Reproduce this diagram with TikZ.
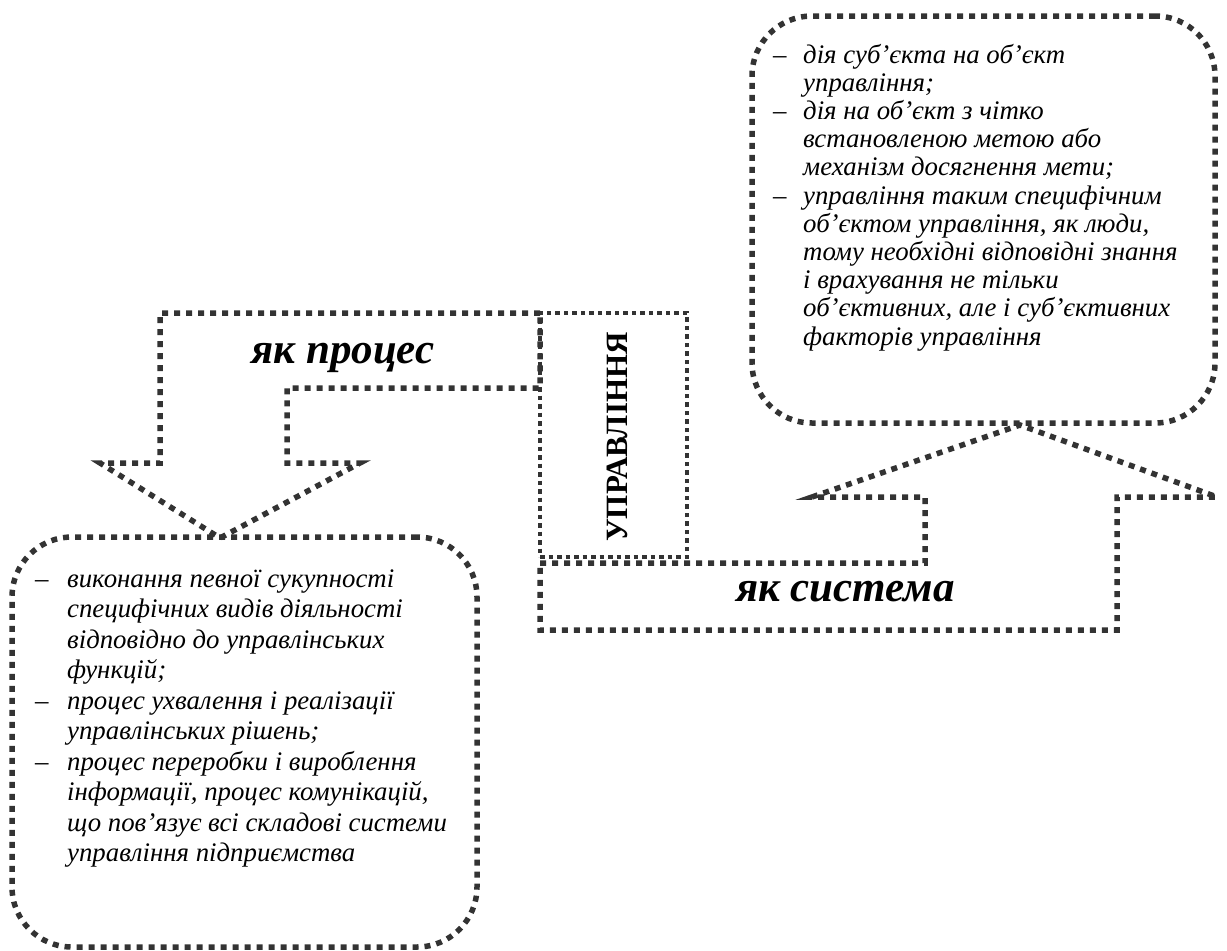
\documentclass[tikz,border=0pt]{standalone}
\usepackage{fontspec}
\setmainfont{Liberation Serif}
\begin{document}
\begin{tikzpicture}[x=1pt,y=-1pt,
  dotline/.style={draw=black!80, line width=5.5pt, dash pattern=on 6pt off 6pt, line join=miter},
  finedot/.style={draw=black!80, line width=4.5pt, dash pattern=on 4.5pt off 4pt},
  roundbox/.style={dotline, rounded corners=60pt, inner sep=0pt},
  listtext/.style={inner sep=0pt, anchor=base west, align=left},
  arrowlabel/.style={inner sep=0pt, anchor=base, font=\bfseries\itshape\fontsize{43}{48}\selectfont},
]
\useasboundingbox (0,0) rectangle (1227,951);

% bent arrow "як процес": from the central box to the left, then down
\draw[dotline] (540,313) -- (160,313) -- (160,463) -- (100,463) -- (220,538)
  -- (360,463) -- (287,463) -- (287,388) -- (540,388) -- cycle;

% bent arrow "як система": from the central box to the right, then up
\draw[dotline] (540,563) -- (925,563) -- (925,497) -- (812,497) -- (1020,425)
  -- (1217,497) -- (1117,497) -- (1117,630) -- (540,630) -- cycle;

% central box
\node[finedot, minimum width=147pt, minimum height=244pt] (core) at (613.5,435) {};
\node[rotate=90, inner sep=0pt, font=\bfseries\fontsize{31}{34}\selectfont] (coretext) at (617,437) {УПРАВЛІННЯ};

% rounded boxes with the lists
\node[roundbox, minimum width=463pt, minimum height=407pt] (sysbox) at (983.5,219.5) {};
\node[roundbox, minimum width=465pt, minimum height=410pt] (procbox) at (244.5,742) {};

\node[listtext, font=\itshape\fontsize{26.8}{28.2}\selectfont] (systext) at (773,63) {%
\begin{tabular}[t]{@{}l@{}l@{}}
\makebox[30pt][l]{–} & дія суб’єкта на об’єкт\\
 & управління;\\
\makebox[30pt][l]{–} & дія на об’єкт з чітко\\
 & встановленою метою або\\
 & механізм досягнення мети;\\
\makebox[30pt][l]{–} & управління таким специфічним\\
 & об’єктом управління, як люди,\\
 & тому необхідні відповідні знання\\
 & і врахування не тільки\\
 & об’єктивних, але і суб’єктивних\\
 & факторів управління
\end{tabular}};

\node[listtext, font=\itshape\fontsize{26.8}{30.5}\selectfont] (proctext) at (35,587) {%
\begin{tabular}[t]{@{}l@{}l@{}}
\makebox[32pt][l]{–} & виконання певної сукупності\\
 & специфічних видів діяльності\\
 & відповідно до управлінських\\
 & функцій;\\
\makebox[32pt][l]{–} & процес ухвалення і реалізації\\
 & управлінських рішень;\\
\makebox[32pt][l]{–} & процес переробки і вироблення\\
 & інформації, процес комунікацій,\\
 & що пов’язує всі складові системи\\
 & управління підприємства
\end{tabular}};

% arrow labels
\node[arrowlabel] (proclabel) at (343,363) {як процес};
\node[arrowlabel, anchor=base east] (syslabel) at (955,601) {як система};
\end{tikzpicture}
\end{document}
